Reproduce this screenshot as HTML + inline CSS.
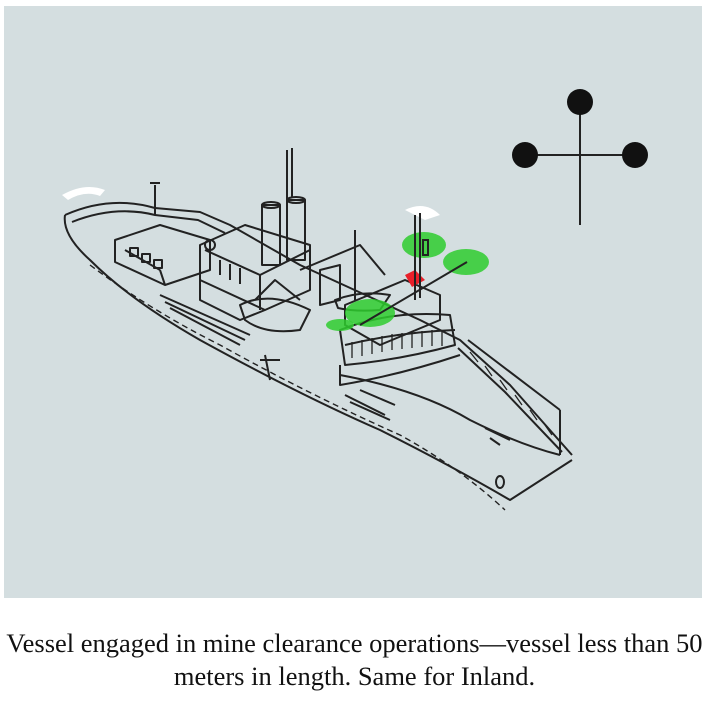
<!DOCTYPE html>
<html><head><meta charset="utf-8"><style>
body{margin:0;background:#fff;width:709px;height:705px;overflow:hidden;position:relative}
.cap{position:absolute;left:0;width:709px;text-align:center;font-family:"Liberation Serif",serif;font-size:26.5px;letter-spacing:0px;color:#111;line-height:33px;top:627px;white-space:nowrap}
</style></head><body>
<svg width="709" height="705" style="position:absolute;left:0;top:0">
<rect x="4" y="6" width="698" height="592" fill="#d4dee0"/>
<line x1="580" y1="102" x2="580" y2="225" stroke="#222" stroke-width="2"/>
<line x1="525" y1="155" x2="635" y2="155" stroke="#222" stroke-width="2"/>
<circle cx="580" cy="102" r="13" fill="#111"/>
<circle cx="525" cy="155" r="13" fill="#111"/>
<circle cx="635" cy="155" r="13" fill="#111"/>
<path d="M62 195 Q85 182 105 190 L100 196 Q85 190 68 200Z" fill="#fff"/>
<path d="M405 210 Q425 200 440 215 L425 220Z" fill="#fff"/>
<g fill="none" stroke="#222" stroke-width="2" stroke-linejoin="round">
<path d="M65 215 Q110 195 155 208 L200 212 L230 225 L300 265 L420 320 L460 340 L510 385 L572 455"/>
<path d="M65 215 Q62 235 90 260 Q130 300 200 340 Q300 395 380 430 Q450 465 510 500 L572 460"/>
<path d="M90 265 Q150 310 220 345 Q310 395 400 435 Q460 468 505 510" stroke-dasharray="6 4" stroke-width="1.4"/>
<path d="M72 222 Q115 205 155 215 L198 220 L225 233 M458 348 L505 392 L562 452"/>
<path d="M560 410 L560 455 M468 340 L560 410"/>
<path d="M470 352 L478 362 M485 366 L492 376 M500 380 L507 390 M515 395 L522 405 M530 410 L537 420 M545 425 L552 435" stroke-width="1.3"/>
<path d="M340 375 Q420 390 470 420 Q520 445 560 455"/>
<path d="M115 240 L160 225 L210 240 L210 270 L165 285 L115 262Z"/>
<path d="M125 250 L160 270 M160 270 L165 285"/>
<rect x="130" y="248" width="8" height="8"/><rect x="142" y="254" width="8" height="8"/><rect x="154" y="260" width="8" height="8"/>
<path d="M155 185 L155 215 M150 183 L160 183"/>
<path d="M160 295 L250 335 M165 302 L245 340 M170 308 L240 345"/>
<path d="M200 245 L245 225 L310 245 L310 290 L265 310 L200 280Z"/>
<path d="M200 280 L200 300 L240 320 L265 310"/>
<path d="M205 250 L260 275 L310 250 M260 275 L260 310"/>
<path d="M210 255 L210 270 M220 260 L220 275 M230 264 L230 280 M240 268 L240 284"/>
<rect x="262" y="205" width="18" height="60"/><rect x="287" y="200" width="18" height="60"/>
<ellipse cx="271" cy="205" rx="9" ry="3"/><ellipse cx="296" cy="200" rx="9" ry="3"/>
<path d="M287 150 L287 200 M292 148 L292 198"/>
<path d="M240 305 Q270 290 310 310 L300 330 Q265 335 245 320Z"/>
<path d="M255 300 L275 280 L300 300"/>
<path d="M335 300 Q360 290 390 295 L380 310 Q355 312 338 308Z"/>
<path d="M355 230 L355 300 M300 270 L360 245 L385 275"/>
<path d="M320 270 L340 265 L340 300 L320 305Z"/>
<path d="M345 305 L405 280 L440 295 L440 320 L380 345 L345 325Z"/>
<path d="M340 330 Q390 310 450 315 L455 345 Q400 360 345 365Z"/>
<path d="M345 345 Q400 332 455 330"/>
<path d="M352 342 L352 358 M362 340 L362 356 M372 338 L372 354 M382 336 L382 352 M392 334 L392 350 M402 333 L402 349 M412 332 L412 348 M422 331 L422 347 M432 330 L432 346 M442 330 L442 346" stroke-width="1.3"/>
<path d="M340 365 L340 385 Q400 375 460 355"/>
<path d="M345 395 L385 415 M350 402 L390 420 M360 390 L395 405"/>
<circle cx="210" cy="245" r="5"/>
<path d="M265 355 L270 380 M260 360 L280 360"/>
<ellipse cx="500" cy="482" rx="4" ry="6"/>
<path d="M485 428 L510 440 M490 438 L500 445"/>
</g>
<ellipse cx="424" cy="245" rx="22" ry="13" fill="#2ecc2e" opacity=".85"/>
<ellipse cx="466" cy="262" rx="23" ry="13" fill="#2ecc2e" opacity=".85"/>
<ellipse cx="370" cy="313" rx="25" ry="14" fill="#2ecc2e" opacity=".85"/>
<ellipse cx="340" cy="325" rx="14" ry="6" fill="#2ecc2e" opacity=".85"/>
<path d="M405 275 L415 270 L425 280 L412 287Z" fill="#e8202a"/>
<g stroke="#222" stroke-width="2" fill="none">
<path d="M415 215 L415 300 M420 213 L420 298 M360 325 L467 262"/>
<rect x="423" y="240" width="5" height="15"/>
</g>
</svg>
<div class="cap">Vessel engaged in mine clearance operations—vessel less than 50<br>meters in length. Same for Inland.</div>
</body></html>
